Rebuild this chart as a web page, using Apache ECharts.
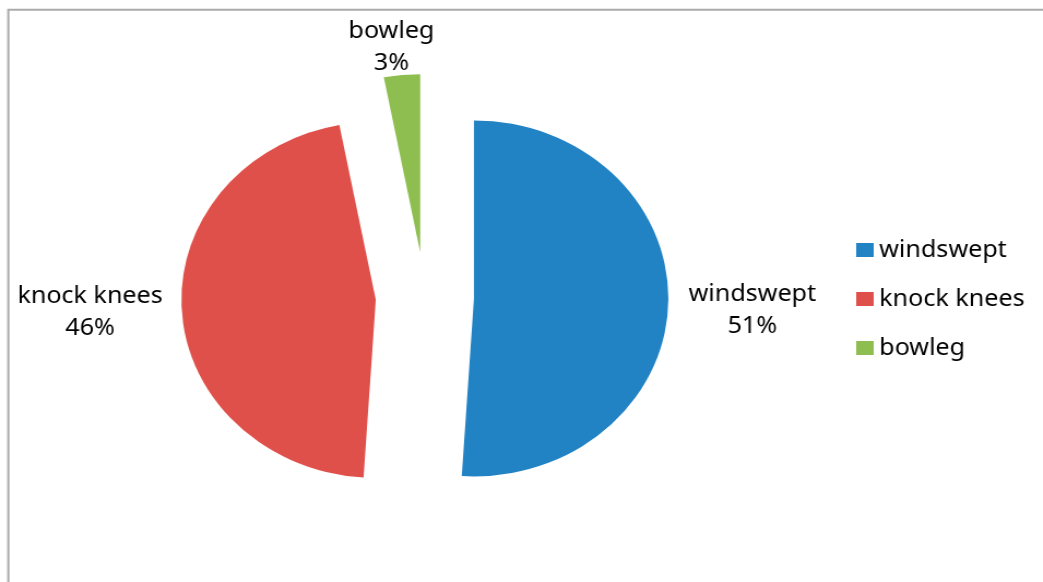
<!DOCTYPE html>
<html>
<head>
<meta charset="utf-8">
<title>pie</title>
<script src="https://cdn.jsdelivr.net/npm/echarts@6/dist/echarts.min.js"></script>
<style>
    html, body {margin: 0; padding: 0; background: #fff; overflow: hidden;}
    /* the original picture is a little wider than it is tall, so stretch it the same way */
    #chart {position: absolute; left: 0; top: 0; width: 955px; height: 582px; transform: scaleX(1.0921); transform-origin: 0 0;}
</style>
</head>
<body>
<div id="chart"></div>
<script>
    var categories = ['windswept', 'knock knees', 'bowleg'];
    var values = [51, 46, 3];
    var colors = ['#2182c4', '#e0504a', '#8dbe4f'];
    // how far each label sits out from its slice (label line is hidden), and a small drop
    var labelReach = [44, 51, 2];
    var labelDrop = [6, 0, 0];

    var font = '"Noto Sans", sans-serif';

    var e = echarts.init(document.getElementById('chart'));
    e.setOption({
        animation: false,
        color: colors,
        graphic: [{
            type: 'rect', silent: true,
            shape: {x: 7.6, y: 9.7, width: 2000, height: 2000},
            style: {fill: 'none', stroke: '#ababab', lineWidth: 2}
        }],
        legend: {
            orient: 'vertical', left: 784, top: 238, padding: 0,
            icon: 'rect', itemWidth: 16, itemHeight: 14, itemGap: 25,
            selectedMode: false,
            textStyle: {fontFamily: font, fontSize: 23, lineHeight: 24, color: '#000'},
            data: categories
        },
        series: [{
            type: 'pie',
            center: [389, 297],
            radius: 178,
            startAngle: 90,
            clockwise: true,
            selectedMode: 'multiple',
            selectedOffset: 45,
            avoidLabelOverlap: false,
            emphasis: {disabled: true},
            label: {
                show: true, position: 'outside',
                formatter: '{b}\n{d}%',
                distanceToLabelLine: 5,
                fontFamily: font, fontSize: 23, lineHeight: 32, color: '#000'
            },
            labelLine: {show: false, length: 28},
            // centre the two lines of every label on each other
            labelLayout: function (p) {
                return {align: 'center', dy: labelDrop[p.dataIndex]};
            },
            data: categories.map(function (n, i) {
                return {
                    name: n, value: values[i], selected: true,
                    labelLine: {length2: labelReach[i]}
                };
            })
        }]
    });
</script>
</body>
</html>
